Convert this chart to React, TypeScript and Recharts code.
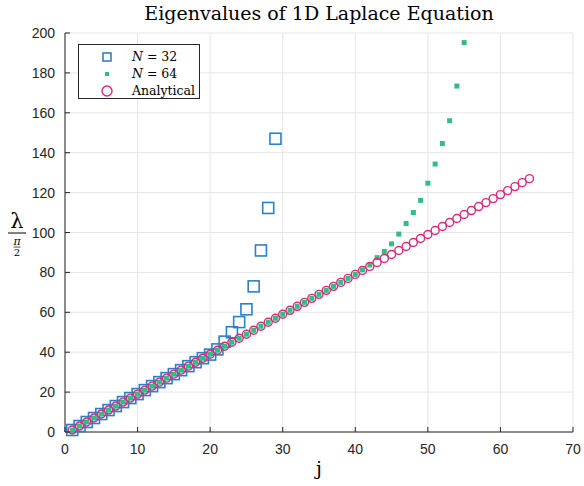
import { CartesianGrid, Legend, Scatter, ScatterChart, XAxis, YAxis } from "recharts";

// j index for each series
const jN32 = [
  1, 2, 3, 4, 5, 6, 7, 8, 9, 10, 11, 12, 13, 14, 15, 16, 17, 18, 19, 20,
  21, 22, 23, 24, 25, 26, 27, 28, 29,
];
const lambdaN32 = [
  1, 3, 5, 7, 9, 11, 13, 15, 17, 19, 21, 23, 25, 27, 29, 31, 33, 35, 37, 38.8,
  41.4, 45.3, 50.0, 55.1, 61.5, 73.0, 91.0, 112.3, 147.0,
];

const jN64 = [
  1, 2, 3, 4, 5, 6, 7, 8, 9, 10, 11, 12, 13, 14, 15, 16, 17, 18, 19, 20,
  21, 22, 23, 24, 25, 26, 27, 28, 29, 30, 31, 32, 33, 34, 35, 36, 37, 38, 39, 40,
  41, 42, 43, 44, 45, 46, 47, 48, 49, 50, 51, 52, 53, 54, 55,
];
const lambdaN64 = [
  1, 3, 5, 7, 9, 11, 13, 15, 17, 19, 21, 23, 25, 27, 29, 31, 33, 35, 37, 39,
  41, 43, 45, 47, 49, 51, 53, 55, 57, 59, 61, 63, 65, 67, 69, 71, 73, 75, 77, 79,
  81.3, 83.7, 87.4, 90.5, 94.3, 99.2, 104.5, 110.0, 116.1, 124.7, 134.3, 144.6, 156.0, 173.4, 195.2,
];

const jExact = [
  1, 2, 3, 4, 5, 6, 7, 8, 9, 10, 11, 12, 13, 14, 15, 16, 17, 18, 19, 20,
  21, 22, 23, 24, 25, 26, 27, 28, 29, 30, 31, 32, 33, 34, 35, 36, 37, 38, 39, 40,
  41, 42, 43, 44, 45, 46, 47, 48, 49, 50, 51, 52, 53, 54, 55, 56, 57, 58, 59, 60,
  61, 62, 63, 64,
];
const lambdaExact = [
  1, 3, 5, 7, 9, 11, 13, 15, 17, 19, 21, 23, 25, 27, 29, 31, 33, 35, 37, 39,
  41, 43, 45, 47, 49, 51, 53, 55, 57, 59, 61, 63, 65, 67, 69, 71, 73, 75, 77, 79,
  81, 83, 85, 87, 89, 91, 93, 95, 97, 99, 101, 103, 105, 107, 109, 111, 113, 115, 117, 119,
  121, 123, 125, 127,
];

const xTicks = [0, 10, 20, 30, 40, 50, 60, 70];
const yTicks = [0, 20, 40, 60, 80, 100, 120, 140, 160, 180, 200];

const BLUE = "#2d80c8";
const GREEN = "#2fbf7f";
const MAGENTA = "#d6297f";
const AXIS = "#262626";
const SERIF = "'DejaVu Serif', 'Liberation Serif', serif";
const SANS = "'Liberation Sans', Arial, sans-serif";

const toPoints = (js: number[], vs: number[]) => js.map((j, i) => ({ j, v: vs[i] }));

const BigSquare = (props: any) => (
  <rect x={props.cx - 5.5} y={props.cy - 5.5} width={11} height={11} fill="none" stroke={BLUE} strokeWidth={1.6} />
);
const SmallSquare = (props: any) => (
  <rect x={props.cx - 2.5} y={props.cy - 2.5} width={5} height={5} fill={GREEN} />
);
const Ring = (props: any) => (
  <circle cx={props.cx} cy={props.cy} r={4} fill="none" stroke={MAGENTA} strokeWidth={1.4} />
);

const XTick = (props: any) => (
  <g>
    <line x1={props.x} y1={props.y - 8} x2={props.x} y2={props.y - 13} stroke={AXIS} />
    <text x={props.x} y={props.y + 14} textAnchor="middle" fontSize={14} fontFamily={SANS} fill={AXIS}>
      {props.payload.value}
    </text>
  </g>
);
const YTick = (props: any) => (
  <g>
    <line x1={props.x + 8} y1={props.y} x2={props.x + 13} y2={props.y} stroke={AXIS} />
    <text x={props.x - 2} y={props.y + 5} textAnchor="end" fontSize={14} fontFamily={SANS} fill={AXIS}>
      {props.payload.value}
    </text>
  </g>
);

function LegendBox() {
  const rows = [
    { label: <><i>N</i> = 32</>, mark: <rect x={3} y={3} width={8} height={8} fill="none" stroke={BLUE} strokeWidth={1.6} /> },
    { label: <><i>N</i> = 64</>, mark: <rect x={5} y={5} width={4} height={4} fill={GREEN} /> },
    { label: <>Analytical</>, mark: <circle cx={7} cy={7} r={5} fill="none" stroke={MAGENTA} strokeWidth={1.4} /> },
  ];
  return (
    <div style={{ border: `1px solid ${AXIS}`, background: "#fff", width: 122, height: 55, boxSizing: "border-box", padding: "3px 0 0 0" }}>
      {rows.map((r, i) => (
        <div key={i} style={{ display: "flex", alignItems: "center", height: 17 }}>
          <svg width={14} height={14} style={{ marginLeft: 21, marginRight: 18 }}>{r.mark}</svg>
          <span style={{ fontFamily: SERIF, fontSize: 12.5, color: "#000", whiteSpace: "nowrap" }}>{r.label}</span>
        </div>
      ))}
    </div>
  );
}

const YLabel = () => {
  const cx = 17;
  return (
    <g fontFamily={SERIF} fill="#000">
      <text x={cx} y={228} textAnchor="middle" fontSize={21}>λ</text>
      <line x1={cx - 9} y1={233} x2={cx + 9} y2={233} stroke="#000" strokeWidth={1} />
      <text x={cx} y={245} textAnchor="middle" fontSize={11} fontStyle="italic">π</text>
      <line x1={cx - 3.5} y1={247} x2={cx + 3.5} y2={247} stroke="#000" strokeWidth={0.7} />
      <text x={cx} y={256} textAnchor="middle" fontSize={10}>2</text>
    </g>
  );
};

const XLabel = (props: any) => (
  <text x={props.viewBox.x + props.viewBox.width / 2} y={475} textAnchor="middle" fontSize={19} fontFamily={SERIF} fill="#000">
    j
  </text>
);

export default function App() {
  return (
    <div style={{ position: "absolute", left: 0, top: 0, width: 584, height: 486, background: "#fff" }}>
      <div style={{ position: "absolute", left: 65, width: 508, top: 2, textAlign: "center", fontFamily: SERIF, fontSize: 19, color: "#000", zIndex: 2 }}>
        Eigenvalues of 1D Laplace Equation
      </div>
      <ScatterChart width={584} height={486} margin={{ top: 33, right: 11, bottom: 24, left: 0 }}>
        <CartesianGrid stroke="#e6e6e6" strokeWidth={1} />
        <XAxis
          type="number"
          dataKey="j"
          domain={[0, 70]}
          ticks={xTicks}
          interval={0}
          height={30}
          tickLine={false}
          tickSize={6}
          tickMargin={2}
          axisLine={{ stroke: AXIS }}
          tick={<XTick />}
          label={<XLabel />}
        />
        <YAxis
          type="number"
          dataKey="v"
          domain={[0, 200]}
          ticks={yTicks}
          interval={0}
          width={65}
          tickLine={false}
          tickSize={6}
          tickMargin={2}
          axisLine={{ stroke: AXIS }}
          tick={<YTick />}
          label={<YLabel />}
        />
        <Legend
          layout="vertical"
          align="center"
          verticalAlign="middle"
          wrapperStyle={{ left: 78, top: 44, width: 122, height: 55 }}
          content={() => <LegendBox />}
        />
        <Scatter name="N = 32" data={toPoints(jN32, lambdaN32)} shape={<BigSquare />} isAnimationActive={false} />
        <Scatter name="N = 64" data={toPoints(jN64, lambdaN64)} shape={<SmallSquare />} isAnimationActive={false} />
        <Scatter name="Analytical" data={toPoints(jExact, lambdaExact)} shape={<Ring />} isAnimationActive={false} />
      </ScatterChart>
    </div>
  );
}
